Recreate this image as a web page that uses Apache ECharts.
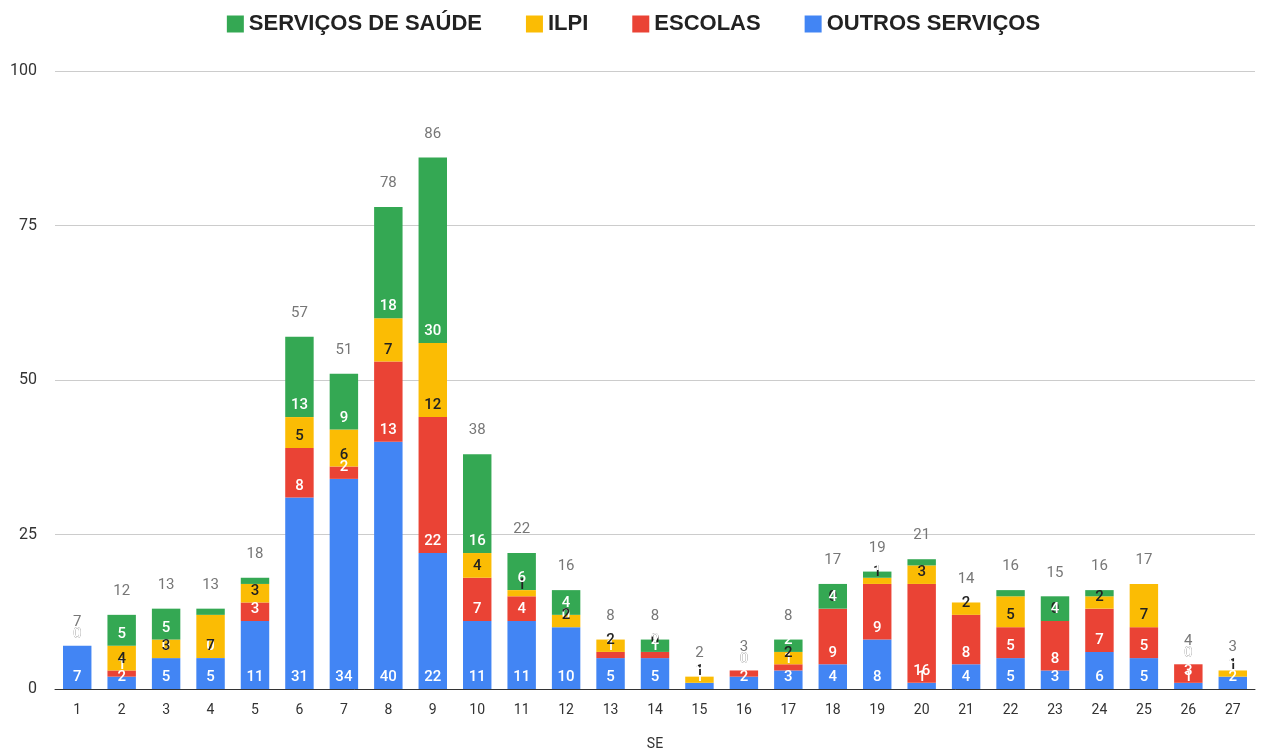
<!DOCTYPE html>
<html>
<head>
<meta charset="utf-8">
<script src="https://cdn.jsdelivr.net/npm/echarts@6/dist/echarts.min.js"></script>
<style>html,body{margin:0;padding:0;background:#fff}#c{width:1267px;height:756px}</style>
</head>
<body>
<div id="c"></div>
<script>
// semanas epidemiológicas
const semanas = ['1','2','3','4','5','6','7','8','9','10','11','12','13','14','15','16','17','18','19','20','21','22','23','24','25','26','27'];
const outros = [7,2,5,5,11,31,34,40,22,11,11,10,5,5,1,2,3,4,8,1,4,5,3,6,5,1,2];
const escolas = [0,1,0,0,3,8,2,13,22,7,4,0,1,1,0,1,1,9,9,16,8,5,8,7,5,3,0];
const ilpi = [0,4,3,7,3,5,6,7,12,4,1,2,2,0,1,0,2,0,1,3,2,5,0,2,7,0,1];
const saude = [0,5,5,1,1,13,9,18,30,16,6,4,0,2,0,0,2,4,1,1,0,1,4,1,0,0,0];
const totais = semanas.map((s, i) => outros[i] + escolas[i] + ilpi[i] + saude[i]);

const chart = echarts.init(document.getElementById('c'));

function serie(name, data, color, textColor) {
  return {
    name: name,
    type: 'bar',
    stack: 'total',
    data: data,
    barWidth: '64%',
    itemStyle: { color: color },
    label: {
      show: true,
      position: 'insideBottom',
      distance: 4,
      color: textColor,
      fontSize: 15,
      fontWeight: 500,
      fontFamily: 'Roboto',
      formatter: p => p.value
    }
  };
}

chart.setOption({
  animation: false,
  textStyle: { fontFamily: 'Roboto' },
  legend: {
    top: 8,
    left: 'center',
    itemWidth: 17,
    itemHeight: 17,
    itemGap: 44,
    icon: 'rect',
    textStyle: { fontSize: 22, fontWeight: 'bold', color: '#222', fontFamily: 'Liberation Sans' },
    data: ['SERVIÇOS DE SAÚDE', 'ILPI', 'ESCOLAS', 'OUTROS SERVIÇOS']
  },
  grid: { left: 55, right: 12, top: 71, bottom: 66 },
  xAxis: {
    type: 'category',
    data: semanas,
    name: 'SE',
    nameLocation: 'middle',
    nameGap: 48,
    nameTextStyle: { fontSize: 14, color: '#333' },
    axisTick: { show: false },
    axisLine: { lineStyle: { color: '#333' } },
    axisLabel: { fontSize: 14, color: '#333', margin: 14 }
  },
  yAxis: {
    type: 'value',
    min: 0,
    max: 100,
    interval: 25,
    axisLabel: { fontSize: 16, color: '#333', margin: 18 },
    splitLine: { lineStyle: { color: '#ccc' } }
  },
  series: [
    serie('OUTROS SERVIÇOS', outros, '#4285f4', '#fff'),
    serie('ESCOLAS', escolas, '#ea4335', '#fff'),
    serie('ILPI', ilpi, '#fbbc04', '#222'),
    serie('SERVIÇOS DE SAÚDE', saude, '#34a853', '#fff'),
    {
      name: 'Total',
      type: 'bar',
      stack: 'total',
      data: semanas.map(() => 0),
      itemStyle: { color: 'transparent' },
      label: {
        show: true,
        position: 'top',
        distance: 16,
        color: '#777',
        fontSize: 15,
        formatter: p => totais[p.dataIndex]
      }
    }
  ]
});
</script>
</body>
</html>
